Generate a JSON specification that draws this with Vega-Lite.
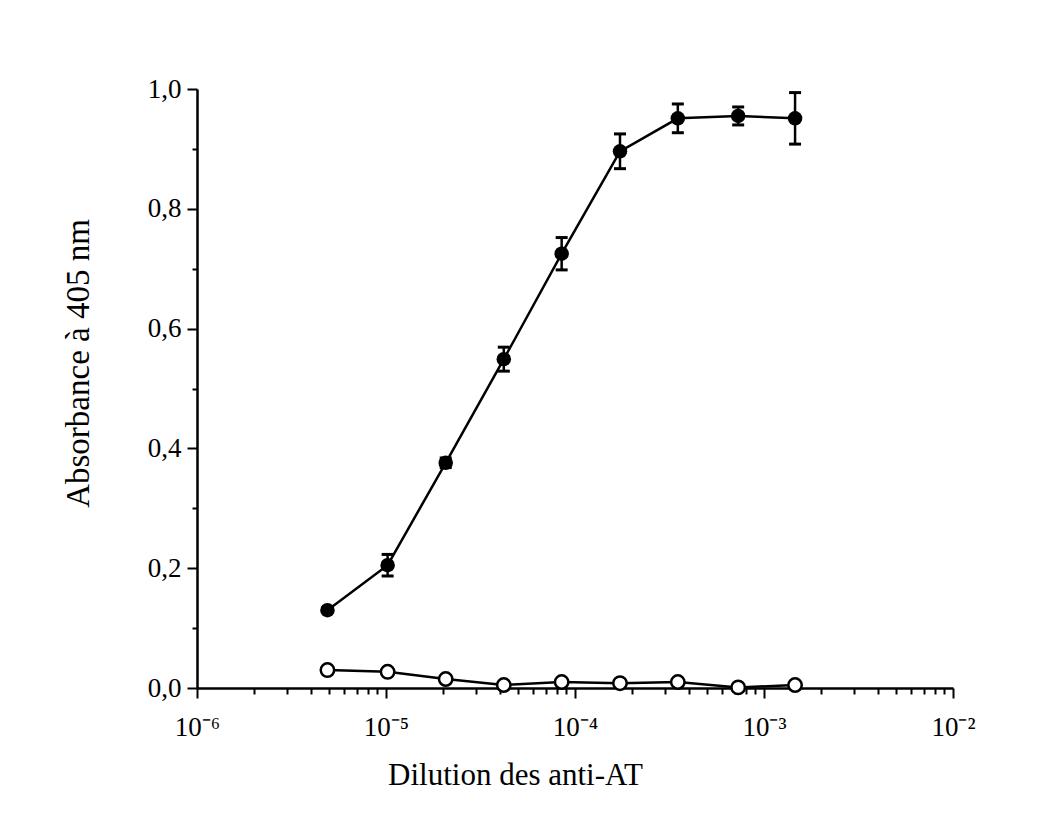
{
  "$schema": "https://vega.github.io/schema/vega-lite/v6.json",
  "width": 756,
  "height": 599,
  "autosize": {"type": "none"},
  "padding": {"left": 197, "top": 89, "right": 87, "bottom": 137},
  "background": "white",
  "config": {
    "view": {"stroke": null},
    "font": "Liberation Serif",
    "axis": {
      "domainColor": "black",
      "domainWidth": 2.5,
      "tickColor": "black",
      "tickWidth": 2,
      "labelColor": "black",
      "titleColor": "black",
      "labelFont": "Liberation Serif",
      "titleFont": "Liberation Serif",
      "labelFontSize": 27,
      "titleFontSize": 31,
      "titleFontWeight": "normal",
      "grid": false
    }
  },
  "data": {
    "values": [
      {"dil": 4.9e-6, "abs": 0.130, "lo": 0.126, "hi": 0.134, "serie": "anti-AT"},
      {"dil": 1.02e-5, "abs": 0.205, "lo": 0.187, "hi": 0.223, "serie": "anti-AT"},
      {"dil": 2.07e-5, "abs": 0.376, "lo": 0.368, "hi": 0.384, "serie": "anti-AT"},
      {"dil": 4.2e-5, "abs": 0.549, "lo": 0.529, "hi": 0.569, "serie": "anti-AT"},
      {"dil": 8.5e-5, "abs": 0.725, "lo": 0.698, "hi": 0.752, "serie": "anti-AT"},
      {"dil": 1.73e-4, "abs": 0.896, "lo": 0.867, "hi": 0.925, "serie": "anti-AT"},
      {"dil": 3.5e-4, "abs": 0.951, "lo": 0.927, "hi": 0.975, "serie": "anti-AT"},
      {"dil": 7.3e-4, "abs": 0.955, "lo": 0.940, "hi": 0.970, "serie": "anti-AT"},
      {"dil": 1.46e-3, "abs": 0.951, "lo": 0.908, "hi": 0.994, "serie": "anti-AT"},
      {"dil": 4.9e-6, "abs": 0.030, "serie": "contrôle"},
      {"dil": 1.02e-5, "abs": 0.027, "serie": "contrôle"},
      {"dil": 2.07e-5, "abs": 0.015, "serie": "contrôle"},
      {"dil": 4.2e-5, "abs": 0.005, "serie": "contrôle"},
      {"dil": 8.5e-5, "abs": 0.010, "serie": "contrôle"},
      {"dil": 1.73e-4, "abs": 0.008, "serie": "contrôle"},
      {"dil": 3.5e-4, "abs": 0.010, "serie": "contrôle"},
      {"dil": 7.3e-4, "abs": 0.001, "serie": "contrôle"},
      {"dil": 1.46e-3, "abs": 0.005, "serie": "contrôle"}
    ]
  },
  "layer": [
    {
      "mark": {"type": "line", "color": "black", "strokeWidth": 2.5},
      "encoding": {
        "x": {
          "field": "dil", "type": "quantitative",
          "scale": {"type": "log", "domain": [1e-6, 1e-2]},
          "axis": {
            "title": "Dilution des anti-AT",
            "titlePadding": 20,
            "titleX": 318,
            "titleAlign": "center",
            "values": [1e-6,2e-6,3e-6,4e-6,5e-6,6e-6,7e-6,8e-6,9e-6,1e-5,2e-5,3e-5,4e-5,5e-5,6e-5,7e-5,8e-5,9e-5,1e-4,2e-4,3e-4,4e-4,5e-4,6e-4,7e-4,8e-4,9e-4,1e-3,2e-3,3e-3,4e-3,5e-3,6e-3,7e-3,8e-3,9e-3,1e-2],
            "labelExpr": "abs(log(datum.value)/LN10 - round(log(datum.value)/LN10)) > 0.001 ? '' : ['10⁻⁶','10⁻⁵','10⁻⁴','10⁻³','10⁻²'][round(log(datum.value)/LN10)+6]",
            "tickSize": {"condition": {"test": "abs(log(datum.value)/LN10 - round(log(datum.value)/LN10)) < 0.001", "value": 10}, "value": 6},
            "labelPadding": 16,
            "labelFlush": false,
            "labelOverlap": false
          }
        },
        "y": {
          "field": "abs", "type": "quantitative",
          "scale": {"domain": [0, 1]},
          "axis": {
            "title": "Absorbance à 405 nm",
            "titleFontSize": 33,
            "titlePadding": 52,
            "titleY": 274,
            "titleAlign": "center",
            "values": [0,0.1,0.2,0.3,0.4,0.5,0.6,0.7,0.8,0.9,1.0],
            "labelExpr": "round(datum.value*10) % 2 == 0 ? replace(format(datum.value, '.1f'), '.', ',') : ''",
            "tickSize": {"condition": {"test": "round(datum.value*10) % 2 == 0", "value": 10}, "value": 5},
            "labelPadding": 6,
            "labelOverlap": false
          }
        },
        "detail": {"field": "serie"}
      }
    },
    {
      "transform": [{"filter": "datum.serie == 'anti-AT'"}],
      "mark": {"type": "errorbar", "color": "black", "opacity": 1, "ticks": {"size": 12, "thickness": 3, "color": "black", "opacity": 1}, "rule": {"strokeWidth": 2.5, "color": "black", "opacity": 1}},
      "encoding": {
        "x": {"field": "dil", "type": "quantitative"},
        "y": {"field": "lo", "type": "quantitative", "title": "Absorbance à 405 nm"},
        "y2": {"field": "hi"}
      }
    },
    {
      "transform": [{"filter": "datum.serie == 'contrôle'"}],
      "mark": {"type": "point", "shape": "circle", "filled": false, "fill": "white", "fillOpacity": 1, "stroke": "black", "strokeWidth": 2.5, "size": 180, "opacity": 1},
      "encoding": {
        "x": {"field": "dil", "type": "quantitative"},
        "y": {"field": "abs", "type": "quantitative"}
      }
    },
    {
      "transform": [{"filter": "datum.serie == 'anti-AT'"}],
      "mark": {"type": "point", "shape": "circle", "filled": true, "color": "black", "size": 210, "opacity": 1},
      "encoding": {
        "x": {"field": "dil", "type": "quantitative"},
        "y": {"field": "abs", "type": "quantitative"}
      }
    }
  ]
}
